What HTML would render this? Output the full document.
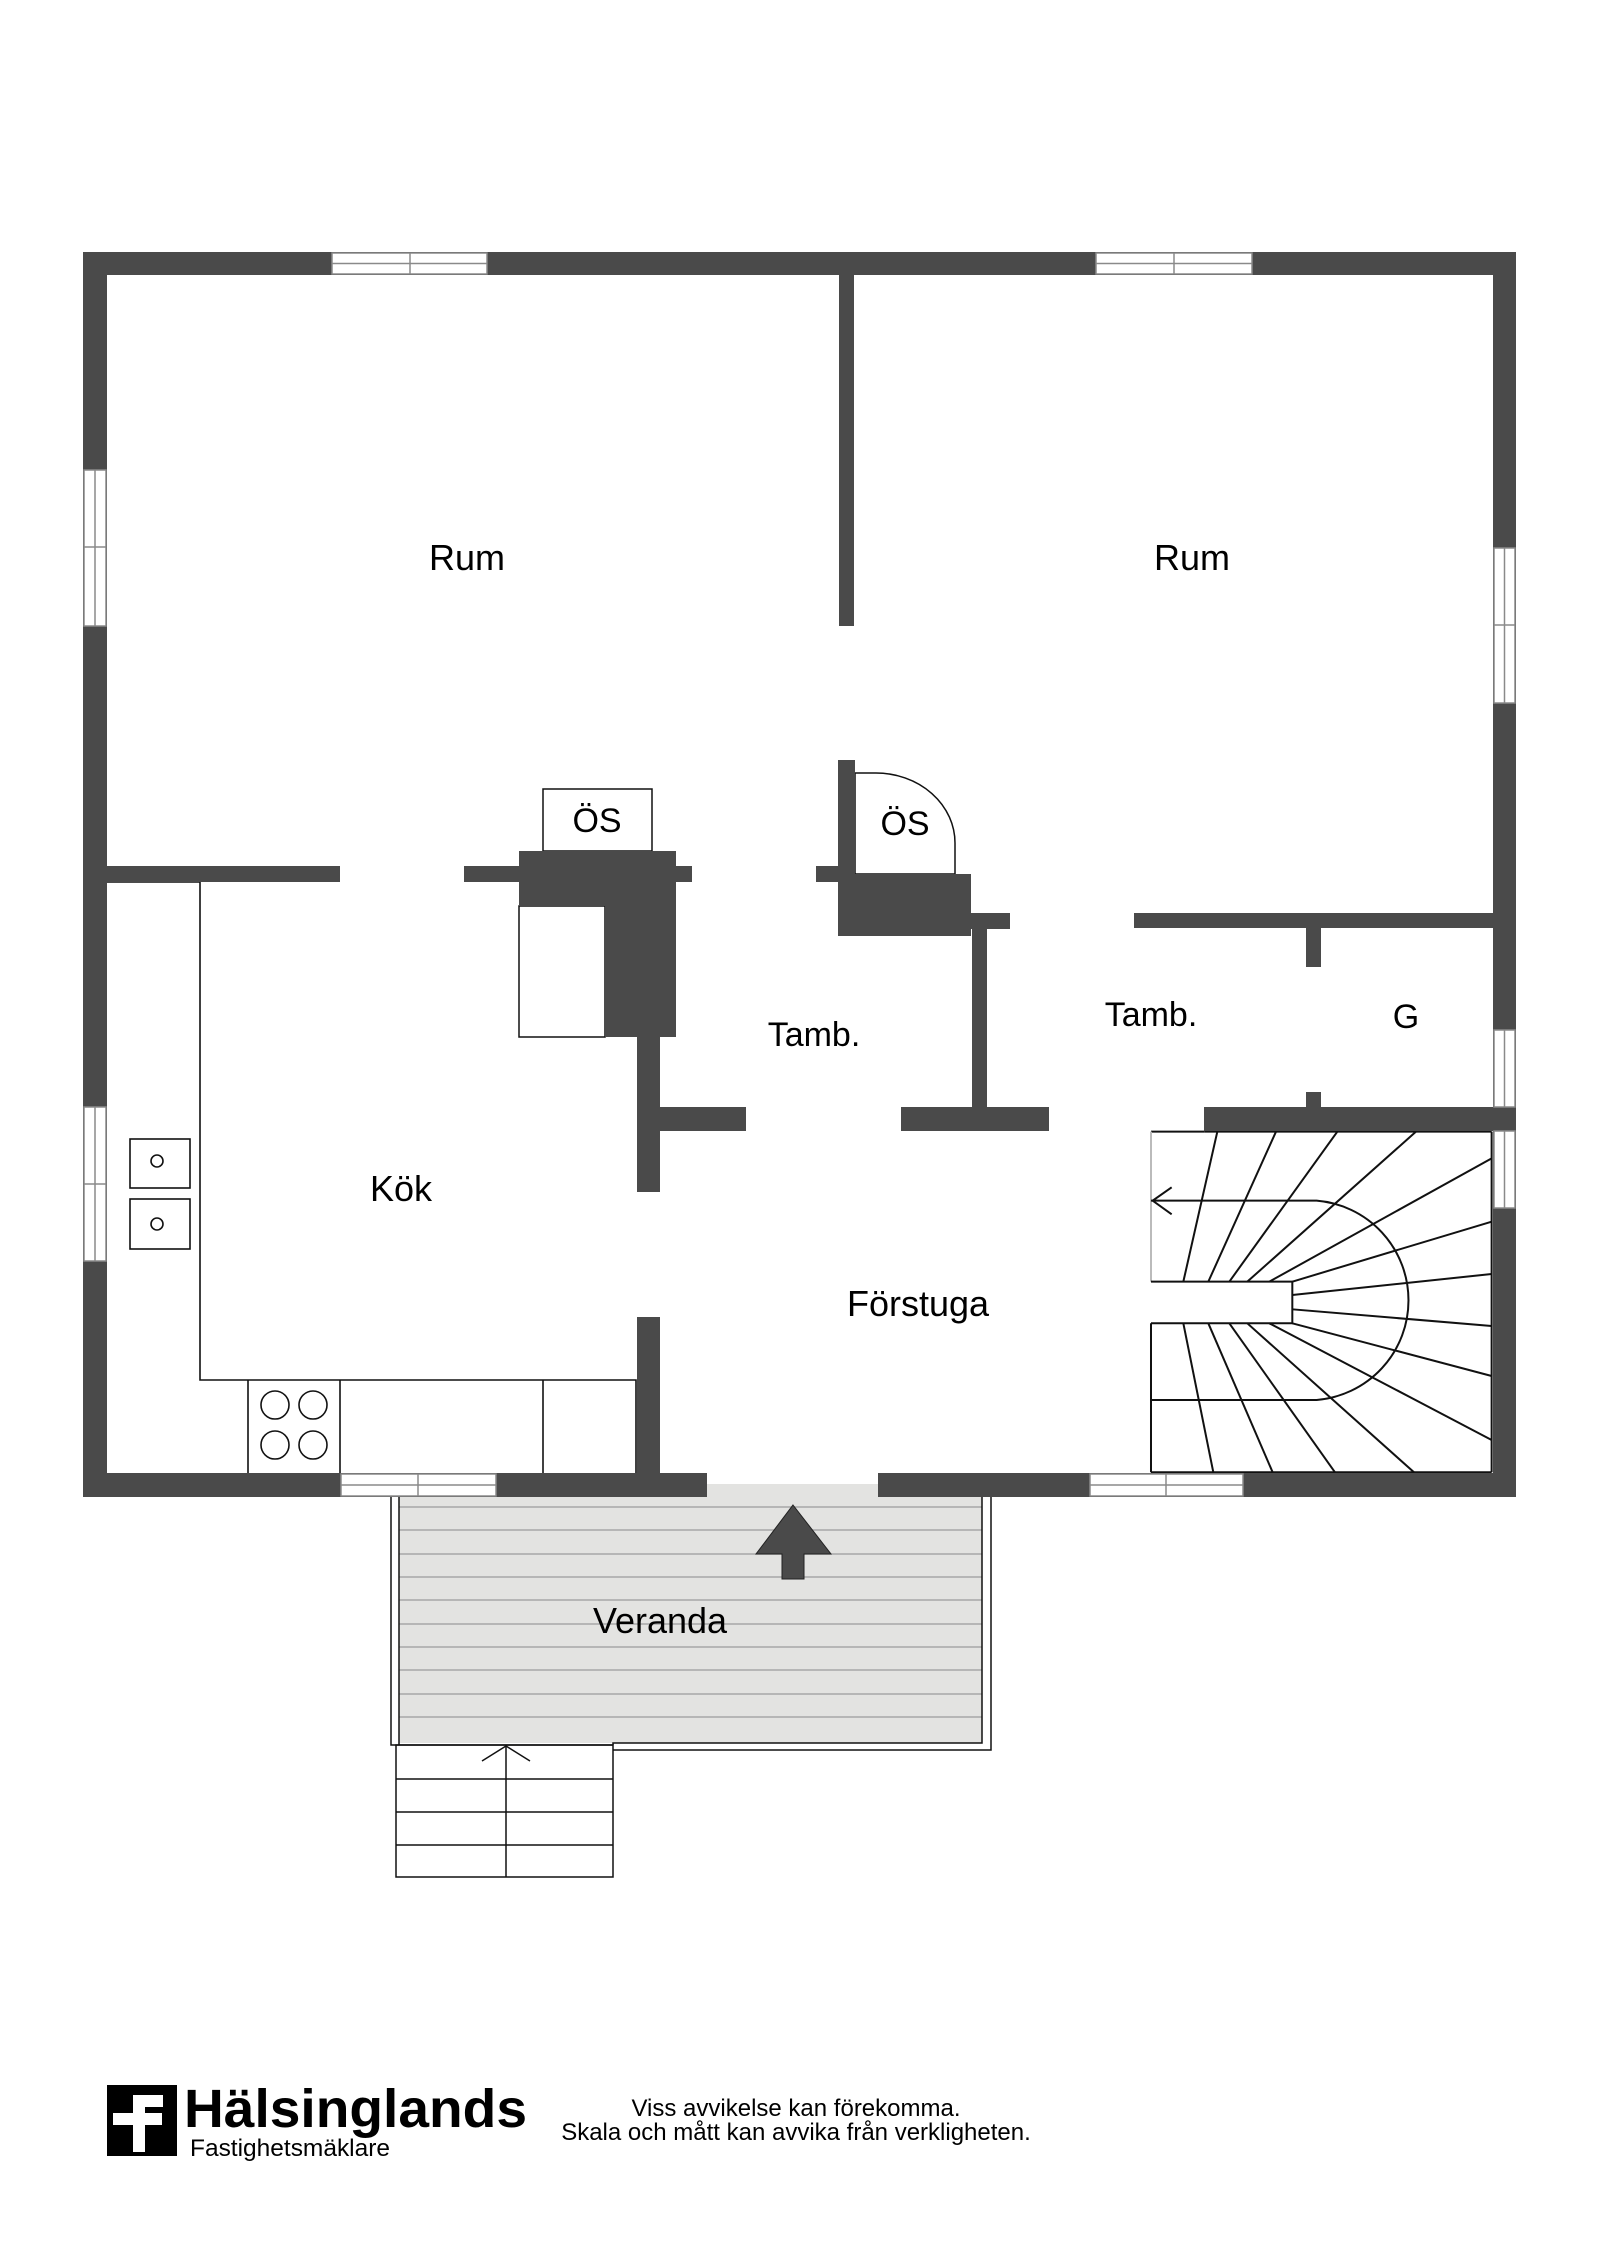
<!DOCTYPE html>
<html><head><meta charset="utf-8"><style>
html,body{margin:0;padding:0;background:#fff;}
svg{display:block;}
text{font-family:"Liberation Sans",Arial,sans-serif;fill:#000;}
</style></head><body>
<svg width="1600" height="2263" viewBox="0 0 1600 2263" xmlns="http://www.w3.org/2000/svg">
<rect width="1600" height="2263" fill="#fff"/>

<!-- Veranda -->
<rect x="399" y="1496" width="583" height="247" fill="#e3e3e1"/>
<rect x="707" y="1484" width="171" height="14" fill="#e3e3e1"/>
<g stroke="#a8a8a8" stroke-width="1.6">
<line x1="399" y1="1507" x2="982" y2="1507"/><line x1="399" y1="1530" x2="982" y2="1530"/>
<line x1="399" y1="1554" x2="982" y2="1554"/><line x1="399" y1="1577" x2="982" y2="1577"/>
<line x1="399" y1="1600" x2="982" y2="1600"/><line x1="399" y1="1624" x2="982" y2="1624"/>
<line x1="399" y1="1647" x2="982" y2="1647"/><line x1="399" y1="1670" x2="982" y2="1670"/>
<line x1="399" y1="1694" x2="982" y2="1694"/><line x1="399" y1="1717" x2="982" y2="1717"/>
</g>
<g fill="none" stroke="#111" stroke-width="1.5">
<polyline points="391,1496 391,1745 613,1745"/>
<line x1="399" y1="1496" x2="399" y2="1745"/>
<polyline points="613,1745 613,1743 982,1743 982,1496"/>
<polyline points="613,1750 991,1750 991,1496"/>
<rect x="396" y="1745" width="217" height="132"/>
<line x1="396" y1="1779" x2="613" y2="1779"/>
<line x1="396" y1="1812" x2="613" y2="1812"/>
<line x1="396" y1="1845" x2="613" y2="1845"/>
<line x1="506" y1="1746" x2="506" y2="1877"/>
<polyline points="482,1761 506,1746 530,1761"/>
</g>
<polygon points="793,1505 831,1554 804,1554 804,1579 782,1579 782,1554 756,1554" fill="#4a4a4a" stroke="#222" stroke-width="1"/>
<text x="660" y="1633" font-size="36" text-anchor="middle">Veranda</text>

<!-- Kitchen fixtures -->
<g fill="none" stroke="#111" stroke-width="1.6">
<polyline points="107,882 200,882 200,1380 636,1380 636,1473"/>
<line x1="248" y1="1380" x2="248" y2="1473"/>
<line x1="340" y1="1380" x2="340" y2="1473"/>
<line x1="543" y1="1380" x2="543" y2="1473"/>
<circle cx="275" cy="1405" r="14"/><circle cx="313" cy="1405" r="14"/>
<circle cx="275" cy="1445" r="14"/><circle cx="313" cy="1445" r="14"/>
<rect x="130" y="1139" width="60" height="49"/>
<rect x="130" y="1199" width="60" height="50"/>
<circle cx="157" cy="1161" r="6"/><circle cx="157" cy="1224" r="6"/>
</g>

<!-- Stairs -->
<g transform="translate(1140,1100) scale(0.3333)" fill="none" stroke="#111" stroke-width="6">
<line x1="33" y1="95" x2="193" y2="95"/>
<line x1="33" y1="95" x2="33" y2="545" stroke="#bbb"/>
<line x1="33" y1="670" x2="33" y2="1117"/>
<line x1="33" y1="1117" x2="1055" y2="1117"/>
<line x1="1055" y1="95" x2="1055" y2="1117"/>
<line x1="193" y1="95" x2="1055" y2="95"/>
<polyline points="33,545 457,545 457,670 33,670"/>
<path d="M33,302 H530 A300,300 0 0 1 530,900 H33" transform="translate(0,0)"/>
<polyline points="95,262 38,302 95,343"/>
<line x1="232" y1="95" x2="130" y2="545"/>
<line x1="408" y1="95" x2="205" y2="545"/>
<line x1="592" y1="95" x2="268" y2="545"/>
<line x1="828" y1="95" x2="322" y2="545"/>
<line x1="1055" y1="175" x2="388" y2="545"/>
<line x1="1055" y1="365" x2="457" y2="545"/>
<line x1="1055" y1="522" x2="457" y2="585"/>
<line x1="1055" y1="678" x2="457" y2="628"/>
<line x1="1055" y1="828" x2="457" y2="670"/>
<line x1="1055" y1="1020" x2="388" y2="670"/>
<line x1="822" y1="1117" x2="322" y2="670"/>
<line x1="585" y1="1117" x2="268" y2="670"/>
<line x1="398" y1="1117" x2="205" y2="670"/>
<line x1="220" y1="1117" x2="130" y2="670"/>
</g>

<!-- ÖS boxes -->
<rect x="543" y="789" width="109" height="62" fill="#fff" stroke="#111" stroke-width="1.5"/>
<path d="M855,874 V773 H876 A79,70 0 0 1 955,843 V874 Z" fill="#fff" stroke="#111" stroke-width="1.5"/>
<rect x="519" y="906" width="86" height="131" fill="#fff" stroke="#111" stroke-width="1.5"/>

<!-- Walls -->
<g fill="#4a4a4a">
<rect x="83" y="252" width="1433" height="23"/>
<rect x="83" y="252" width="24" height="1245"/>
<rect x="1493" y="252" width="23" height="1245"/>
<rect x="83" y="1473" width="624" height="24"/>
<rect x="878" y="1473" width="638" height="24"/>
<rect x="839" y="275" width="15" height="351"/>
<rect x="107" y="866" width="233" height="16"/>
<rect x="464" y="866" width="228" height="16"/>
<path d="M519,851 H676 V1037 H605 V906 H519 Z"/>
<rect x="637" y="1037" width="23" height="155"/>
<rect x="660" y="1107" width="86" height="24"/>
<rect x="637" y="1317" width="23" height="160"/>
<rect x="838" y="760" width="17" height="114"/>
<rect x="816" y="866" width="22" height="16"/>
<rect x="838" y="874" width="133" height="62"/>
<rect x="971" y="913" width="39" height="16"/>
<rect x="972" y="929" width="15" height="180"/>
<rect x="901" y="1107" width="148" height="24"/>
<rect x="1134" y="913" width="370" height="15"/>
<rect x="1306" y="928" width="15" height="39"/>
<rect x="1306" y="1092" width="15" height="16"/>
<rect x="1204" y="1107" width="312" height="24"/>
</g>

<!-- Windows -->
<g fill="#fff" stroke="#8a8a8a" stroke-width="1.5">
<rect x="332" y="253" width="155" height="21"/><line x1="332" y1="263.5" x2="487" y2="263.5"/><line x1="410" y1="253" x2="410" y2="274"/>
<rect x="1096" y="253" width="156" height="21"/><line x1="1096" y1="263.5" x2="1252" y2="263.5"/><line x1="1174" y1="253" x2="1174" y2="274"/>
<rect x="84" y="470" width="22" height="156"/><line x1="95" y1="470" x2="95" y2="626"/><line x1="84" y1="547" x2="106" y2="547"/>
<rect x="84" y="1107" width="22" height="154"/><line x1="95" y1="1107" x2="95" y2="1261"/><line x1="84" y1="1184" x2="106" y2="1184"/>
<rect x="1494" y="548" width="21" height="155"/><line x1="1504.5" y1="548" x2="1504.5" y2="703"/><line x1="1494" y1="625" x2="1515" y2="625"/>
<rect x="1494" y="1030" width="21" height="77"/><line x1="1504.5" y1="1030" x2="1504.5" y2="1107"/>
<rect x="1494" y="1131" width="21" height="77"/><line x1="1504.5" y1="1131" x2="1504.5" y2="1208"/>
<rect x="341" y="1474" width="155" height="22"/><line x1="341" y1="1485" x2="496" y2="1485"/><line x1="418" y1="1474" x2="418" y2="1496"/>
<rect x="1090" y="1474" width="153" height="22"/><line x1="1090" y1="1485" x2="1243" y2="1485"/><line x1="1166" y1="1474" x2="1166" y2="1496"/>
</g>

<!-- Labels -->
<text x="467" y="570" font-size="36" text-anchor="middle">Rum</text>
<text x="1192" y="570" font-size="36" text-anchor="middle">Rum</text>
<text x="597" y="832" font-size="34" text-anchor="middle">ÖS</text>
<text x="905" y="835" font-size="34" text-anchor="middle">ÖS</text>
<text x="814" y="1046" font-size="34" text-anchor="middle">Tamb.</text>
<text x="1151" y="1026" font-size="34" text-anchor="middle">Tamb.</text>
<text x="1406" y="1028" font-size="34" text-anchor="middle">G</text>
<text x="401" y="1201" font-size="36" text-anchor="middle">Kök</text>
<text x="918" y="1316" font-size="36" text-anchor="middle">Förstuga</text>

<!-- Logo -->
<rect x="107" y="2085" width="70" height="71" fill="#000"/>
<g fill="#fff">
<rect x="113" y="2113" width="20" height="12"/>
<rect x="133" y="2095" width="12" height="57"/>
<rect x="145" y="2095" width="18" height="12"/>
<rect x="145" y="2113" width="17" height="12"/>
</g>
<text x="184" y="2127" font-size="54" font-weight="bold" textLength="343" lengthAdjust="spacingAndGlyphs">Hälsinglands</text>
<text x="190" y="2156" font-size="24" textLength="200" lengthAdjust="spacingAndGlyphs">Fastighetsmäklare</text>
<text x="796" y="2116" font-size="24" text-anchor="middle">Viss avvikelse kan förekomma.</text>
<text x="796" y="2140" font-size="24" text-anchor="middle">Skala och mått kan avvika från verkligheten.</text>
</svg>
</body></html>
